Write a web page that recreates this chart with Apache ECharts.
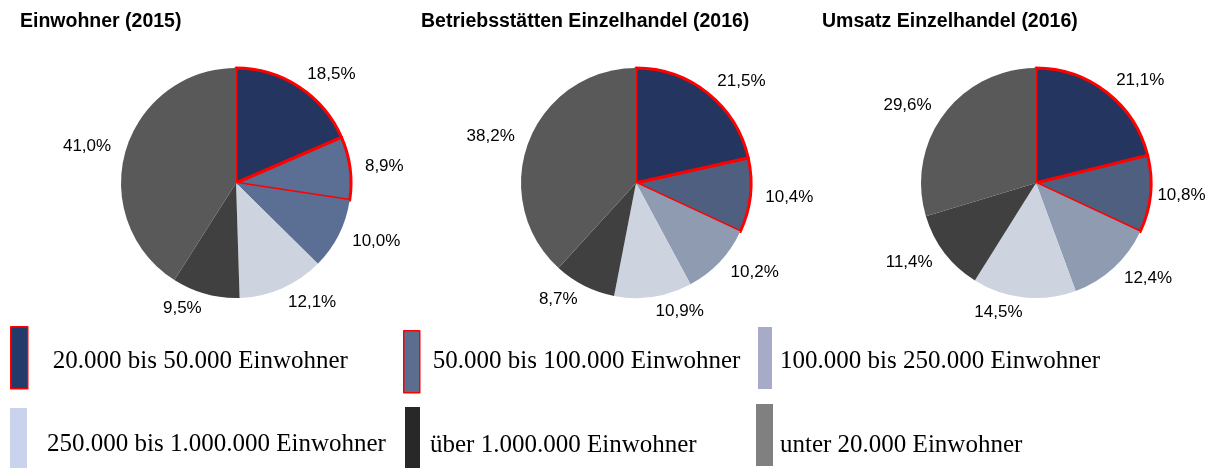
<!DOCTYPE html>
<html>
<head>
<meta charset="utf-8">
<script src="https://cdn.jsdelivr.net/npm/echarts@6/dist/echarts.min.js"></script>
<style>html,body{margin:0;padding:0;background:#fff}#c{width:1208px;height:468px}</style>
</head>
<body>
<div id="c"></div>
<script>
var categories = ['20.000 bis 50.000 Einwohner', '50.000 bis 100.000 Einwohner', '100.000 bis 250.000 Einwohner', '250.000 bis 1.000.000 Einwohner', 'über 1.000.000 Einwohner', 'unter 20.000 Einwohner'];
var titles = ['Einwohner (2015)', 'Betriebsstätten Einzelhandel (2016)', 'Umsatz Einzelhandel (2016)'];
var einwohner = [18.5, 8.9, 10.0, 12.1, 9.5, 41.0];
var betriebe = [21.5, 10.4, 10.2, 10.9, 8.7, 38.2];
var umsatz = [21.1, 10.8, 12.4, 14.5, 11.4, 29.6];

var pieColors1 = ['#243660', '#5b6e93', '#5b6e93', '#cdd3df', '#404040', '#595959'];
var pieColors2 = ['#243660', '#4f5f80', '#8e9bb0', '#cdd3df', '#404040', '#595959'];
var legendColors = ['#243a6a', '#5c6e90', '#a8abc8', '#c9d4ec', '#282828', '#808080'];

var chart = echarts.init(document.getElementById('c'));

function makePie(name, values, colors, cx, lineLens) {
  return {
    type: 'pie',
    name: name,
    center: [cx, 183],
    radius: [0, 115],
    startAngle: 90,
    clockwise: true,
    avoidLabelOverlap: false,
    silent: true,
    label: {
      show: true,
      position: 'outside',
      distanceToLabelLine: 0,
      fontFamily: 'Liberation Sans',
      fontSize: 17,
      color: '#000',
      formatter: function (p) { return p.value.toFixed(1).replace('.', ',') + '%'; }
    },
    labelLine: { show: false, length: 15, length2: 0 },
    emphasis: { disabled: true },
    data: values.map(function (v, i) {
      var st = { color: colors[i], borderWidth: 0 };
      if (i === 0 || i === 1) { st.borderColor = '#ff0000'; st.borderWidth = 3; }
      var d = { name: categories[i], value: v, itemStyle: st };
      if (lineLens && lineLens[i] != null) d.labelLine = { show: false, length: lineLens[i], length2: 0 };
      return d;
    })
  };
}

// shift = vertical offset of the text below the swatch centre
var legendPos = [
  { left: 10, top: 326, w: 17, pl: 20, shift: 4 },
  { left: 403, top: 330, w: 16, pl: 8, shift: 0 },
  { left: 758, top: 327, w: 14, pl: 3, shift: 3 },
  { left: 10, top: 408, w: 17, pl: 15, shift: 5 },
  { left: 405, top: 407, w: 15, pl: 5, shift: 7 },
  { left: 756, top: 404, w: 17, pl: 2, shift: 10 }
];

var legends = categories.map(function (c, i) {
  var lp = legendPos[i];
  var st = { color: legendColors[i], borderWidth: 0 };
  if (i < 2) { st.borderColor = '#ff0000'; st.borderWidth = 1.5; }
  var ts = { fontFamily: 'Liberation Serif', fontSize: 25, color: '#000', padding: [0, 0, 0, lp.pl] };
  if (lp.shift > 0) ts.lineHeight = lp.shift * 2;
  return {
    data: [{ name: c, itemStyle: st }],
    left: lp.left, top: lp.top, padding: 0,
    orient: 'horizontal',
    icon: 'rect',
    itemWidth: lp.w, itemHeight: 62,
    selectedMode: false,
    formatter: lp.shift > 0 ? '\n{name}' : '{name}',
    textStyle: ts
  };
});

var titleLeft = [20, 421, 822];
chart.setOption({
  animation: false,
  title: titles.map(function (t, i) {
    return { text: t, left: titleLeft[i], top: 12, padding: 0,
      textStyle: { fontFamily: 'Liberation Sans', fontWeight: 'bold', fontSize: 19.5, color: '#000' } };
  }),
  legend: legends,
  series: [
    makePie(titles[0], einwohner, pieColors1, 236),
    makePie(titles[1], betriebe, pieColors2, 636),
    makePie(titles[2], umsatz, pieColors2, 1036, [null, 7])
  ]
});
</script>
</body>
</html>
